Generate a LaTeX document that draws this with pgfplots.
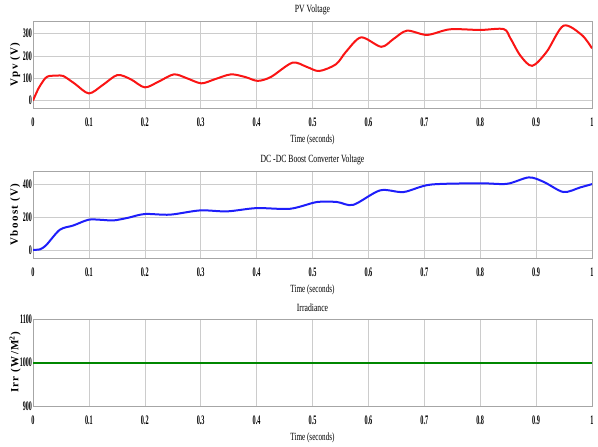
\documentclass[border=0pt]{standalone}
\usepackage{fontspec}
\setmainfont{Liberation Serif}
\newfontfamily\lsfont[LetterSpace=12]{Liberation Serif}
\usepackage{pgfplots}
\pgfplotsset{compat=1.18}
\definecolor{pvred}{RGB}{250,20,20}
\definecolor{bblue}{RGB}{30,30,250}
\definecolor{igreen}{RGB}{0,135,0}
\pgfplotsset{
  every axis title shift=0pt,
  panel/.style={
    scale only axis, width=559pt, height=87pt,
    xmin=0, xmax=1,
    xtick={0,0.1,0.2,0.3,0.4,0.5,0.6,0.7,0.8,0.9,1},
    xticklabels={0,0.1,0.2,0.3,0.4,0.5,0.6,0.7,0.8,0.9,1},
    grid=major,
    major grid style={gray!40, line width=0.5pt},
    axis line style={gray!70, line width=0.8pt},
    tick style={draw=none},
    xticklabel style={font=\fontsize{13}{13}\selectfont\bfseries, xscale=0.48, anchor=center, yshift=-14pt},
    yticklabel style={font=\fontsize{13}{13}\selectfont\bfseries, xscale=0.46, anchor=east, xshift=1pt},
    title style={font=\fontsize{11}{11}\selectfont, xscale=0.7, at={(axis description cs:0.5,1)}, anchor=center, yshift=11pt},
    xlabel style={font=\fontsize{11}{11}\selectfont, xscale=0.65, at={(axis description cs:0.5,0)}, anchor=center, yshift=-32pt},
    ylabel style={font=\fontsize{11}{11}\selectfont\lsfont\bfseries, at={(axis description cs:-0.032,0.5)}, anchor=center},
    xlabel={Time (seconds)},
  }
}
\begin{document}
\begin{tikzpicture}
\path[use as bounding box] (0pt,0pt) rectangle (598pt,-447pt);
% PV voltage
\begin{axis}[panel, at={(33pt,-108pt)}, anchor=south west,
  ymin=-33, ymax=355, ytick={0,100,200,300}, yticklabels={0,100,200,300},
  title={PV Voltage}, ylabel={Vpv (V)}]
\addplot[pvred, line width=2pt, smooth, tension=0.5] coordinates {
(0,0) (0.01,55) (0.022,100) (0.03,110) (0.042,111) (0.054,110) (0.075,75) (0.1,32) (0.125,70) (0.151,114)
(0.175,95) (0.2,59) (0.225,85) (0.252,117) (0.275,100) (0.301,77) (0.325,95) (0.354,117) (0.38,105)
(0.402,88) (0.426,106) (0.464,169) (0.49,150) (0.512,132) (0.542,162) (0.56,218) (0.587,282) (0.623,240)
(0.645,275) (0.669,312) (0.705,293) (0.746,318) (0.8,315) (0.842,319) (0.854,278) (0.872,200) (0.893,155)
(0.919,218) (0.949,334) (0.982,292) (1.0,233)};
\end{axis}
% Boost
\begin{axis}[panel, at={(33pt,-258pt)}, anchor=south west,
  ymin=-50, ymax=480, ytick={0,200,400}, yticklabels={0,200,400},
  title={DC -DC Boost Converter Voltage}, ylabel={Vboost (V)}]
\addplot[bblue, line width=2pt, smooth, tension=0.5] coordinates {
(0,0) (0.0125,3) (0.024,30) (0.048,122) (0.072,148) (0.099,183) (0.12,183) (0.144,179) (0.17,195)
(0.2,218) (0.245,214) (0.299,240) (0.347,234) (0.4,254) (0.46,250) (0.508,291) (0.544,291) (0.573,274)
(0.621,362) (0.663,352) (0.711,397) (0.8,405) (0.848,402) (0.887,441) (0.914,413) (0.949,352) (0.979,380) (1,400)};
\end{axis}
% Irradiance
\begin{axis}[panel, at={(33pt,-406pt)}, anchor=south west,
  ymin=900, ymax=1100, ytick={900,1000,1100}, yticklabels={900,1000,1100},
  title={Irradiance}, ylabel={Irr (W/M\textsuperscript{2})}]
\addplot[igreen, line width=2pt] coordinates {(0,1000) (1,1000)};
\end{axis}
\end{tikzpicture}
\end{document}
